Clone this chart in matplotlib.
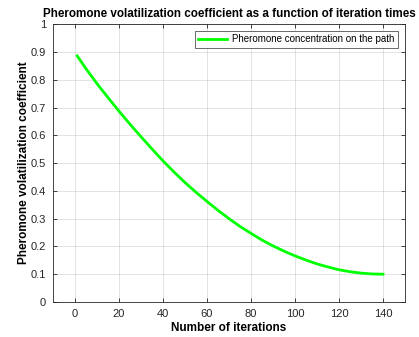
import matplotlib
matplotlib.use("Agg")
import matplotlib.pyplot as plt

# Pheromone volatilization coefficient over iterations
iterations = [1, 5, 10, 15, 20, 25, 30, 35, 40, 45, 50, 55, 60, 65, 70,
              75, 80, 85, 90, 95, 100, 105, 110, 115, 120, 125, 130, 135, 140]
coefficient = [0.886, 0.840, 0.786, 0.736, 0.687, 0.640, 0.595, 0.551, 0.508,
               0.468, 0.430, 0.395, 0.362, 0.330, 0.300, 0.272, 0.247, 0.223,
               0.202, 0.183, 0.166, 0.151, 0.137, 0.126, 0.116, 0.109, 0.104,
               0.101, 0.100]
x_ticks = [0, 20, 40, 60, 80, 100, 120, 140]
y_ticks = [0, 0.1, 0.2, 0.3, 0.4, 0.5, 0.6, 0.7, 0.8, 0.9, 1]
y_tick_labels = ["0", "0.1", "0.2", "0.3", "0.4", "0.5", "0.6", "0.7", "0.8", "0.9", "1"]

plt.rcParams["font.family"] = ["Liberation Sans", "DejaVu Sans"]
axis_gray = (0.15, 0.15, 0.15)

fig = plt.figure(figsize=(4.19, 3.37), dpi=100)
ax = fig.add_axes([0.1265, 0.1039, 0.8401, 0.8241])

ax.plot(iterations, coefficient, color="#00ff00", linewidth=2.0,
        label="Pheromone concentration on the path")

ax.set_xlim(-10, 150)
ax.set_ylim(0, 1)
ax.set_xticks(x_ticks)
ax.set_yticks(y_ticks)
ax.set_yticklabels(y_tick_labels)
ax.grid(True, color=(0.15, 0.15, 0.15), alpha=0.15, linewidth=0.6)
ax.tick_params(direction="in", length=3, width=0.6, colors=axis_gray,
               labelsize=8, top=True, right=True, pad=5)
for s in ax.spines.values():
    s.set_color(axis_gray)
    s.set_linewidth(0.6)

ax.set_title("Pheromone volatilization coefficient as a function of iteration times",
             fontsize=8.35, fontweight="bold", pad=5)
ax.set_xlabel("Number of iterations", fontsize=8.5, fontweight="bold", labelpad=2)
ax.set_ylabel("Pheromone volatilization coefficient", fontsize=8.5,
              fontweight="bold", labelpad=0.5)

leg = ax.legend(loc="upper right", fontsize=7.0, fancybox=False,
                borderpad=0.35, handlelength=2.9, handletextpad=0.6,
                borderaxespad=0.7)
leg.get_frame().set_edgecolor(axis_gray)
leg.get_frame().set_linewidth(0.6)

fig.savefig("out.png", dpi=100)
